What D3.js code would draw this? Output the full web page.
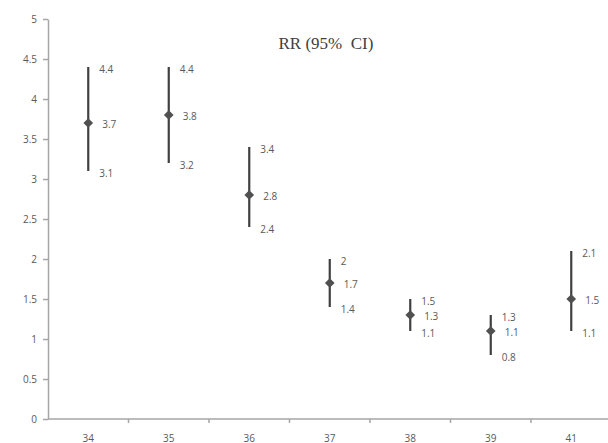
<!DOCTYPE html>
<html>
<head>
<meta charset="utf-8">
<script src="https://cdn.jsdelivr.net/npm/d3@7"></script>
<style>
  body { margin: 0; background: #fff; }
  svg { display: block; }
  .axis path, .axis line { stroke: #a6a6a6; stroke-width: 1.5px; }
  .axis text { fill: #595959; font-family: "Open Sans", sans-serif; font-size: 10px; }
  .val { fill: #595959; font-family: "Open Sans", sans-serif; font-size: 10px; }
</style>
</head>
<body>
<svg id="chart" width="608" height="443"></svg>
<script>

// Chart data
var categories = ['34', '35', '36', '37', '38', '39', '41'];
var rrValues   = [3.7, 3.8, 2.8, 1.7, 1.3, 1.1, 1.5];
var lowerCI    = [3.1, 3.2, 2.4, 1.4, 1.1, 0.8, 1.1];
var upperCI    = [4.4, 4.4, 3.4, 2.0, 1.5, 1.3, 2.1];
var yTicks     = [0, 0.5, 1, 1.5, 2, 2.5, 3, 3.5, 4, 4.5, 5];

var svg = d3.select('#chart');

// Plot area
var plotLeft = 48, plotRight = 611.5, plotTop = 19, plotBottom = 419;

var x = d3.scaleBand().domain(categories).range([plotLeft, plotRight]).padding(0);
var y = d3.scaleLinear().domain([0, 5]).range([plotBottom, plotTop]);

// Y axis
svg.append('g')
    .attr('class', 'axis')
    .attr('transform', 'translate(' + plotLeft + ',0)')
    .call(d3.axisLeft(y).tickValues(yTicks).tickSize(5).tickSizeOuter(0).tickPadding(6).tickFormat(d3.format('')));

// X axis (ticks between categories)
var xAxis = svg.append('g')
    .attr('class', 'axis')
    .attr('transform', 'translate(0,' + plotBottom + ')');

xAxis.append('line')
    .attr('x1', plotLeft).attr('x2', 608)
    .attr('y1', 0).attr('y2', 0);

xAxis.selectAll('.tk')
    .data(categories.slice(1))
    .enter().append('line')
    .attr('class', 'tk')
    .attr('x1', function(d) { return x(d); })
    .attr('x2', function(d) { return x(d); })
    .attr('y1', 0).attr('y2', 4);

xAxis.selectAll('text')
    .data(categories)
    .enter().append('text')
    .attr('x', function(d) { return x(d) + x.bandwidth() / 2; })
    .attr('y', 23)
    .style('text-anchor', 'middle')
    .text(function(d) { return d; });

// Title
svg.append('text')
    .attr('x', 326)
    .attr('y', 49)
    .style('text-anchor', 'middle')
    .style('font-family', '"Liberation Serif", serif')
    .style('font-size', '17px')
    .style('fill', '#404040')
    .text('RR (95%\u00a0 CI)');

var cx = function(i) { return x(categories[i]) + x.bandwidth() / 2; };

// Error bars
svg.selectAll('.bar')
    .data(rrValues)
    .enter().append('line')
    .attr('class', 'bar')
    .attr('x1', function(d, i) { return cx(i); })
    .attr('x2', function(d, i) { return cx(i); })
    .attr('y1', function(d, i) { return y(upperCI[i]); })
    .attr('y2', function(d, i) { return y(lowerCI[i]); })
    .attr('stroke', '#404040')
    .attr('stroke-width', 2.2);

// Diamond markers
svg.selectAll('.pt')
    .data(rrValues)
    .enter().append('path')
    .attr('class', 'pt')
    .attr('d', d3.symbol().type(d3.symbolDiamond2).size(60))
    .attr('transform', function(d, i) { return 'translate(' + cx(i) + ',' + y(d) + ')'; })
    .attr('fill', '#505050');

// Value labels
var fmt = function(v) { return d3.format('')(v); };

svg.selectAll('.hi')
    .data(upperCI)
    .enter().append('text')
    .attr('class', 'val')
    .attr('x', function(d, i) { return cx(i) + 11; })
    .attr('y', function(d) { return y(d) + 2; })
    .attr('dy', '0.35em')
    .text(fmt);

svg.selectAll('.mid')
    .data(rrValues)
    .enter().append('text')
    .attr('class', 'val')
    .attr('x', function(d, i) { return cx(i) + 14; })
    .attr('y', function(d) { return y(d) + 1; })
    .attr('dy', '0.35em')
    .text(fmt);

svg.selectAll('.lo')
    .data(lowerCI)
    .enter().append('text')
    .attr('class', 'val')
    .attr('x', function(d, i) { return cx(i) + 11; })
    .attr('y', function(d) { return y(d) + 2; })
    .attr('dy', '0.35em')
    .text(fmt);

</script>
</body>
</html>
